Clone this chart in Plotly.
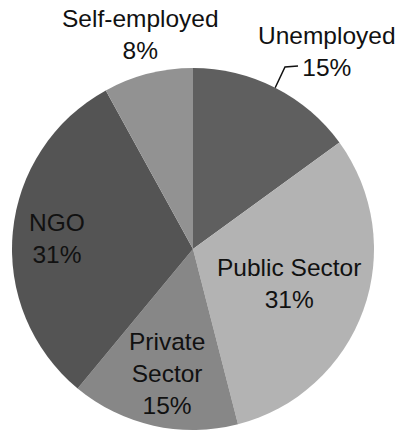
import math
import plotly.graph_objects as go

# Employment status breakdown
categories = ["Unemployed", "Public Sector", "Private Sector", "NGO", "Self-employed"]
shares = [15, 31, 15, 31, 8]
colors = ["#5f5f5f", "#b3b3b3", "#878787", "#545454", "#929292"]

W, H = 401, 432
CX, CY, R = 193, 249, 181  # pie centre and radius in pixels

fig = go.Figure(go.Pie(
    labels=categories,
    values=shares,
    sort=False,
    direction="clockwise",
    rotation=0,
    marker=dict(colors=colors, line=dict(width=0)),
    textinfo="none",
    hoverinfo="label+percent",
    domain=dict(x=[(CX - R) / W, (CX + R) / W], y=[1 - (CY + R) / H, 1 - (CY - R) / H]),
    showlegend=False,
))

# label anchor positions (pixels) and wrapped label text
label_pos = {
    "Unemployed": (327, 52),
    "Public Sector": (289, 283),
    "Private Sector": (167, 373),
    "NGO": (57, 239),
    "Self-employed": (140, 34),
}
wrapped = {"Private Sector": "Private<br>Sector"}

total = sum(shares)
for cat, val in zip(categories, shares):
    px, py = label_pos[cat]
    name = wrapped.get(cat, cat)
    fig.add_annotation(
        x=px / W, y=1 - py / H, xref="paper", yref="paper",
        text=f"{name}<br>{round(100 * val / total)}%",
        showarrow=False, xanchor="center", yanchor="middle",
        font=dict(family="Liberation Sans, Arial, sans-serif", size=24.5, color="#111111"),
        align="center",
    )

# leader line from the Unemployed slice edge to its label
mid = 0.5 * shares[0] / total * 2 * math.pi
ex, ey = CX + R * math.sin(mid), CY - R * math.cos(mid)
path = f"M {ex / W},{1 - ey / H} L {285 / W},{1 - 67 / H} L {298 / W},{1 - 66 / H}"
fig.add_shape(type="path", path=path, xref="paper", yref="paper",
              line=dict(color="#111111", width=1.5))

fig.update_layout(
    width=W, height=H,
    margin=dict(l=0, r=0, t=0, b=0),
    paper_bgcolor="white",
    plot_bgcolor="white",
)

fig.write_html("out.html")
